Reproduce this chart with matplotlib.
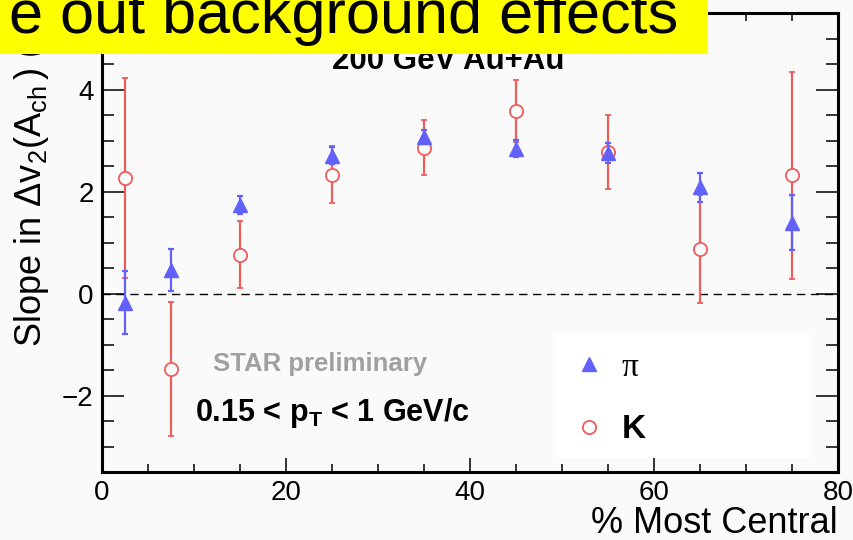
import matplotlib
matplotlib.use("Agg")
import matplotlib.pyplot as plt
from matplotlib.lines import Line2D
from matplotlib.patches import Rectangle
from matplotlib.ticker import MultipleLocator

plt.rcParams['font.family'] = ['Liberation Sans', 'DejaVu Sans']
plt.rcParams['mathtext.fontset'] = 'custom'
plt.rcParams['mathtext.rm'] = 'Liberation Sans'
plt.rcParams['mathtext.it'] = 'Liberation Sans:italic'
plt.rcParams['mathtext.bf'] = 'Liberation Sans:bold'

# slope of delta v2 vs charge asymmetry, per centrality bin
centrality = [2.5, 7.5, 15, 25, 35, 45, 55, 65, 75]
pion_slope = [-0.18, 0.46, 1.73, 2.70, 3.07, 2.84, 2.75, 2.08, 1.39]
pion_err = [0.62, 0.41, 0.18, 0.17, 0.14, 0.17, 0.20, 0.29, 0.54]
kaon_slope = [2.26, -1.48, 0.76, 2.33, 2.86, 3.58, 2.77, 0.87, 2.32]
kaon_err = [1.96, 1.31, 0.66, 0.56, 0.54, 0.60, 0.73, 1.06, 2.03]

W, H = 854, 540
bg = '#fafafa'
blue = '#6262fa'
red = '#ee5c5c'


def fx(x):
    return x / W


def fy(y):
    return 1 - y / H


fig = plt.figure(figsize=(W / 100, H / 100), dpi=100, facecolor=bg)
ax = fig.add_axes([fx(102), fy(472), (838 - 102) / W, (472 - 13) / H])
ax.set_facecolor(bg)

ax.axhline(0, color='black', lw=1.0, ls=(0, (6, 4)), zorder=1)

ax.errorbar(centrality, kaon_slope, yerr=kaon_err, fmt='o', color=red,
            mfc=bg, mec=red, ms=9.5, mew=1.3, elinewidth=1.6,
            capsize=2.5, capthick=1.6, zorder=2)
ax.errorbar(centrality, pion_slope, yerr=pion_err, fmt='^', color=blue,
            ms=10.5, elinewidth=1.6, capsize=2.5, capthick=1.6, zorder=2.5)

ax.set_xlim(0, 80)
ax.set_ylim(-3.5, 5.5)
ax.xaxis.set_major_locator(MultipleLocator(20))
ax.xaxis.set_minor_locator(MultipleLocator(5))
ax.yaxis.set_major_locator(MultipleLocator(2))
ax.yaxis.set_minor_locator(MultipleLocator(0.5))
ax.tick_params(which='both', direction='in', top=True, right=True,
               width=1.1, colors='black', labelsize=20)
ax.tick_params(axis='y', which='major', length=16, pad=6)
ax.tick_params(axis='y', which='minor', length=8.5)
ax.tick_params(axis='x', which='major', length=10, pad=6)
ax.tick_params(axis='x', which='minor', length=5.5)
for s in ax.spines.values():
    s.set_linewidth(2.2)

fig.text(fx(838), fy(533), '% Most Central', ha='right', va='baseline',
         fontsize=26)
fig.text(fx(32), fy(347),
         r'Slope in Δ$\mathrm{v}_2(\mathrm{A}_{\mathrm{ch}}\,)$ (%)',
         rotation=90, ha='center', va='bottom', fontsize=26)

fig.text(fx(448), fy(69), '200 GeV Au+Au', ha='center', va='baseline',
         fontsize=22.5, fontweight='bold')
fig.text(fx(213), fy(371), 'STAR preliminary', ha='left', va='baseline',
         fontsize=18.5, fontweight='bold', color='#a0a0a0')
fig.text(fx(195), fy(421), r'0.15 < $\mathbf{p}_{\mathbf{T}}$ < 1 GeV/c',
         ha='left', va='baseline', fontsize=22, fontweight='bold')

# legend panel
ax.add_patch(Rectangle((fx(555), fy(457)), 256 / W, 123 / H,
                       transform=fig.transFigure, facecolor='white',
                       edgecolor='none', zorder=3))
handles = [Line2D([], [], ls='none', marker='^', color=blue, ms=10),
           Line2D([], [], ls='none', marker='o', mfc='white', mec=red,
                  mew=1.3, ms=9.5)]
leg = ax.legend(handles, ['π', 'K'], loc='upper left',
                bbox_to_anchor=(fx(572), fy(352)),
                bbox_transform=fig.transFigure, frameon=False,
                fontsize=24, handlelength=1.0, handletextpad=0.5,
                labelspacing=0.95, borderpad=0, borderaxespad=0)
leg.set_zorder(4)
leg.get_texts()[0].set_fontfamily('Liberation Serif')
leg.get_texts()[1].set_fontweight('bold')

# slide banner across the top
fig.add_artist(Rectangle((0, fy(54)), 708 / W, 54 / H,
                         transform=fig.transFigure, facecolor='#ffff00',
                         edgecolor='none', zorder=10))
fig.text(fx(678), fy(33), 'e out background effects', ha='right',
         va='baseline', fontsize=44, zorder=11)

fig.savefig('out.png', dpi=100, facecolor=bg)
